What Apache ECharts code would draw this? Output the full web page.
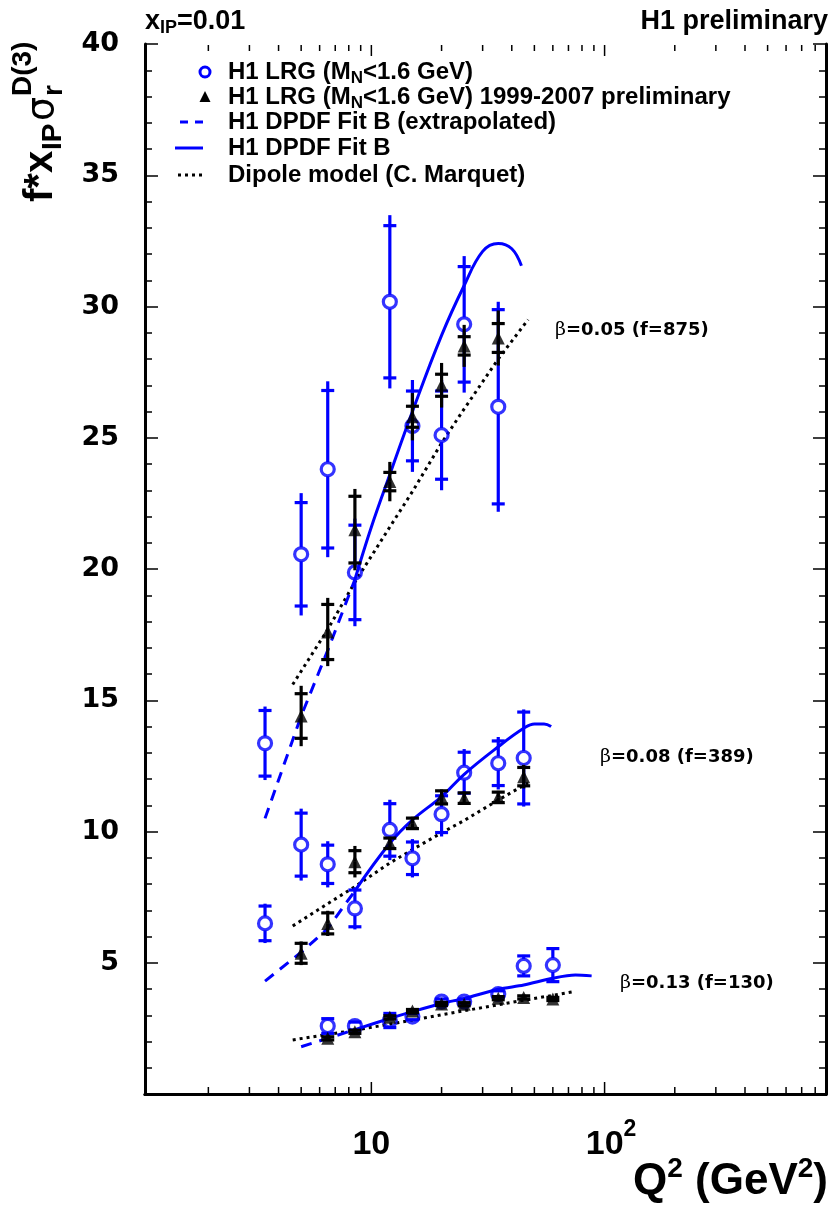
<!DOCTYPE html>
<html><head><meta charset="utf-8">
<script src="https://cdn.jsdelivr.net/npm/echarts@6/dist/echarts.min.js"></script>
<style>html,body{margin:0;padding:0;background:#fff}#c{width:837px;height:1222px}</style>
</head><body><div id="c"></div>
<script>
// ---------------- DATA ----------------
// H1 LRG (open blue circles): Q2, value, stat err, total err
const lrgQ2_b05  = [3.5, 5, 6.5, 8.5, 12, 15, 20, 25, 35];
const lrgVal_b05 = [13.36, 20.56, 23.8, 19.87, 30.18, 25.45, 25.1, 29.32, 26.18];
const lrgSta_b05 = [1.25, 1.97, 3.0, 1.8, 2.9, 1.33, 1.68, 2.2, 3.7];
const lrgTot_b05 = [1.4, 2.33, 3.35, 2.05, 3.3, 1.75, 2.1, 2.6, 4.0];

const lrgQ2_b08  = [3.5, 5, 6.5, 8.5, 12, 15, 20, 25, 35, 45];
const lrgVal_b08 = [6.5, 9.5, 8.75, 7.07, 10.06, 8.98, 10.66, 12.24, 12.6, 12.8];
const lrgSta_b08 = [0.66, 1.2, 0.73, 0.7, 1.0, 0.62, 0.7, 0.78, 0.85, 1.75];
const lrgTot_b08 = [0.75, 1.37, 0.88, 0.8, 1.15, 0.73, 0.85, 0.9, 1.0, 1.85];

const lrgQ2_b13  = [6.5, 8.5, 12, 15, 20, 25, 35, 45, 60];
const lrgVal_b13 = [2.59, 2.59, 2.8, 2.95, 3.52, 3.52, 3.81, 4.88, 4.91];
const lrgSta_b13 = [0.28, 0.15, 0.27, 0.12, 0.1, 0.1, 0.12, 0.38, 0.63];
const lrgTot_b13 = [0.32, 0.18, 0.3, 0.14, 0.12, 0.12, 0.14, 0.42, 0.66];

// H1 LRG 1999-2007 preliminary (black triangles)
const preQ2_b05  = [5, 6.5, 8.5, 12, 15, 20, 25, 35];
const preVal_b05 = [14.4, 17.6, 21.5, 23.33, 25.8, 27.0, 28.5, 28.8];
const preSta_b05 = [0.85, 1.05, 1.27, 0.35, 0.4, 0.42, 0.35, 0.55];
const preTot_b05 = [1.15, 1.3, 1.55, 0.75, 0.9, 0.85, 0.8, 1.05];

const preQ2_b08  = [5, 6.5, 8.5, 12, 15, 20, 25, 35, 45];
const preVal_b08 = [5.36, 6.5, 8.85, 9.55, 10.31, 11.3, 11.27, 11.3, 12.09];
const preSta_b08 = [0.38, 0.4, 0.42, 0.2, 0.2, 0.25, 0.2, 0.2, 0.35];
const preTot_b08 = [0.45, 0.48, 0.6, 0.25, 0.25, 0.3, 0.25, 0.25, 0.45];

const preQ2_b13  = [6.5, 8.5, 12, 15, 20, 25, 35, 45, 60];
const preVal_b13 = [2.12, 2.37, 2.92, 3.16, 3.43, 3.42, 3.65, 3.68, 3.62];
const preSta_b13 = [0.06, 0.06, 0.06, 0.06, 0.06, 0.06, 0.06, 0.06, 0.06];
const preTot_b13 = [0.08, 0.08, 0.08, 0.08, 0.08, 0.08, 0.08, 0.08, 0.08];

// H1 DPDF Fit B (solid) and extrapolated (dashed): [Q2, value]
const fitB_b05     = [[8.5,19.6],[10,21.6],[12,23.6],[15,26.0],[20,28.9],[25,30.8],[30,32.1],[35,32.4],[40,32.2],[44,31.55]];
const fitBext_b05  = [[3.5,10.5],[5,14.4],[6.5,16.9],[8.5,19.6]];
const fitB_b08     = [[8.5,7.74],[12,9.55],[15,10.44],[20,11.33],[25,12.18],[35,13.23],[45,13.93],[50,14.1],[55,14.1],[59,14.0]];
const fitBext_b08  = [[3.5,4.3],[5,5.4],[6.5,6.3],[8.5,7.74]];
const fitB_b13     = [[8.5,2.45],[12,2.88],[15,3.14],[20,3.45],[25,3.64],[35,3.99],[45,4.15],[60,4.41],[75,4.53],[88,4.5]];
const fitBext_b13  = [[5,1.8],[6.5,2.12],[8.5,2.45]];

// Dipole model (C. Marquet): [Q2, value]
const dipole_b05 = [[4.6,15.6],[6.5,17.7],[8.5,19.5],[12,21.6],[15,22.95],[20,24.8],[25,26.1],[35,28.0],[47,29.5]];
const dipole_b08 = [[4.6,6.4],[6.5,7.25],[8.5,7.9],[12,8.8],[15,9.31],[20,9.95],[25,10.42],[35,11.2],[47,11.85]];
const dipole_b13 = [[4.6,2.06],[6.5,2.27],[8.5,2.43],[12,2.66],[15,2.81],[20,3.02],[25,3.17],[35,3.4],[45,3.57],[60,3.76],[74,3.9]];

// axis ticks
const xMajorLabels = [10, 100];
const xMinorTicks = [2,3,4,5,6,7,8,9,20,30,40,50,60,70,80,90,200,300,400,500,600,700,800];
const yTickLabels = [5,10,15,20,25,30,35,40];

// ---------------- CHART ----------------
const BLUE = '#0000ff';
const SANS = "'Liberation Sans', Arial, Helvetica, sans-serif";
const X_MIN = 1.07, X_MAX = 890, Y_MIN = 0, Y_MAX = 40;

const chart = echarts.init(document.getElementById('c'), null, {renderer: 'canvas'});

function zip(q, v, s, t) { return q.map((x, i) => [x, v[i], s[i], t[i]]); }

function errSeries(q, v, s, t, color, gap, z) {
  return {
    type: 'custom', z: z, silent: true,
    data: zip(q, v, s, t),
    renderItem: function (params, api) {
      const x = api.value(0), y = api.value(1), st = api.value(2), tt = api.value(3);
      const c = api.coord([x, y]);
      const top = api.coord([x, y + tt]), bot = api.coord([x, y - tt]);
      const sTop = api.coord([x, y + st]), sBot = api.coord([x, y - st]);
      const hw = 6.5, lw = 3.2;
      const ch = [];
      if (top[1] < c[1] - gap) ch.push({type: 'line', shape: {x1: c[0], y1: top[1], x2: c[0], y2: c[1] - gap}, style: {stroke: color, lineWidth: lw}});
      if (bot[1] > c[1] + gap) ch.push({type: 'line', shape: {x1: c[0], y1: c[1] + gap, x2: c[0], y2: bot[1]}, style: {stroke: color, lineWidth: lw}});
      ch.push({type: 'line', shape: {x1: c[0] - hw, y1: sTop[1], x2: c[0] + hw, y2: sTop[1]}, style: {stroke: color, lineWidth: lw}});
      ch.push({type: 'line', shape: {x1: c[0] - hw, y1: sBot[1], x2: c[0] + hw, y2: sBot[1]}, style: {stroke: color, lineWidth: lw}});
      return {type: 'group', children: ch};
    }
  };
}
function circles(q, v, z) {
  return {type: 'scatter', z: z, silent: true, symbol: 'circle', symbolSize: 13,
    itemStyle: {color: 'rgba(0,0,0,0)', borderColor: BLUE, borderWidth: 3.2},
    data: q.map((x, i) => [x, v[i]])};
}
function triangles(q, v, z) {
  return {type: 'scatter', z: z, silent: true, symbol: 'triangle', symbolSize: 13,
    itemStyle: {color: '#000'}, data: q.map((x, i) => [x, v[i]])};
}
function curve(d, color, type, width, smooth, z) {
  return {type: 'line', z: z, silent: true, data: d, showSymbol: false, symbol: 'none', smooth: smooth,
    lineStyle: {color: color, type: type, width: width}};
}

// x-axis ticks (major + minor), bottom and top, drawn inward
const xTickData = xMajorLabels.map(v => [v, Y_MIN, 12]).concat(xMinorTicks.map(v => [v, Y_MIN, 7]));
const xTickSeries = {
  type: 'custom', z: 10, silent: true, clip: false,
  data: xTickData,
  renderItem: function (params, api) {
    const v = api.value(0), L = api.value(2);
    const b = api.coord([v, Y_MIN]), t = api.coord([v, Y_MAX]);
    return {type: 'group', children: [
      {type: 'line', shape: {x1: b[0], y1: b[1] - 1, x2: b[0], y2: b[1] - L}, style: {stroke: '#000', lineWidth: 1.5}},
      {type: 'line', shape: {x1: t[0], y1: t[1] + 1, x2: t[0], y2: t[1] + L}, style: {stroke: '#000', lineWidth: 1.5}}
    ]};
  }
};

const series = [
  curve(dipole_b05, '#000', [3, 4], 3, false, 2),
  curve(dipole_b08, '#000', [3, 4], 3, false, 2),
  curve(dipole_b13, '#000', [3, 4], 3, false, 2),
  curve(fitBext_b05, BLUE, [11, 8], 3, false, 3),
  curve(fitBext_b08, BLUE, [11, 8], 3, false, 3),
  curve(fitBext_b13, BLUE, [11, 8], 3, false, 3),
  curve(fitB_b05, BLUE, 'solid', 3, 0.4, 3),
  curve(fitB_b08, BLUE, 'solid', 3, 0.4, 3),
  curve(fitB_b13, BLUE, 'solid', 3, 0.3, 3),
  errSeries(lrgQ2_b05, lrgVal_b05, lrgSta_b05, lrgTot_b05, BLUE, 7, 4),
  errSeries(lrgQ2_b08, lrgVal_b08, lrgSta_b08, lrgTot_b08, BLUE, 7, 4),
  errSeries(lrgQ2_b13, lrgVal_b13, lrgSta_b13, lrgTot_b13, BLUE, 7, 4),
  circles(lrgQ2_b05, lrgVal_b05, 5),
  circles(lrgQ2_b08, lrgVal_b08, 5),
  circles(lrgQ2_b13, lrgVal_b13, 5),
  errSeries(preQ2_b05, preVal_b05, preSta_b05, preTot_b05, '#000', 0, 6),
  errSeries(preQ2_b08, preVal_b08, preSta_b08, preTot_b08, '#000', 0, 6),
  errSeries(preQ2_b13, preVal_b13, preSta_b13, preTot_b13, '#000', 0, 6),
  triangles(preQ2_b05, preVal_b05, 7),
  triangles(preQ2_b08, preVal_b08, 7),
  triangles(preQ2_b13, preVal_b13, 7),
  xTickSeries
];

const axisLineStyle = {show: true, lineStyle: {color: '#000', width: 3}};
const option = {
  backgroundColor: '#fff',
  animation: false,
  grid: {left: 145, top: 44, right: 11, bottom: 128, containLabel: false},
  xAxis: [
    {type: 'log', logBase: 10, min: X_MIN, max: X_MAX, position: 'bottom',
     axisLine: axisLineStyle, splitLine: {show: false},
     axisTick: {show: false},
     axisLabel: {show: true, showMinLabel: false, showMaxLabel: false, margin: 24,
       formatter: function (v) {
         if (Math.abs(v - xMajorLabels[0]) < 1e-6) return '{b|10}';
         if (Math.abs(v - xMajorLabels[1]) < 1e-4) return '{p|}{b|10}{s|2}';
         return '';
       },
       rich: {
         b: {fontFamily: SANS, fontWeight: 'bold', fontSize: 34, color: '#000', lineHeight: 44, verticalAlign: 'bottom'},
         s: {fontFamily: SANS, fontWeight: 'bold', fontSize: 23, color: '#000', lineHeight: 23, verticalAlign: 'top'},
         p: {width: 13}
       }}},
    {type: 'log', logBase: 10, min: X_MIN, max: X_MAX, position: 'top',
     axisLine: axisLineStyle, splitLine: {show: false},
     axisTick: {show: false},
     axisLabel: {show: false}}
  ],
  yAxis: [
    {type: 'value', min: Y_MIN, max: Y_MAX, interval: 5, position: 'left',
     axisLine: axisLineStyle, splitLine: {show: false},
     axisTick: {show: true, inside: true, length: 13, lineStyle: {width: 1.5, color: '#000'}},
     minorTick: {show: true, splitNumber: 5, length: 7, lineStyle: {width: 1.5, color: '#000'}},
     axisLabel: {margin: 26, color: '#000', fontFamily: "'DejaVu Sans', sans-serif", fontWeight: 'bold', fontSize: 27,
       formatter: function (v) { return yTickLabels.indexOf(v) >= 0 ? String(v) : ''; }}},
    {type: 'value', min: Y_MIN, max: Y_MAX, interval: 5, position: 'right',
     axisLine: axisLineStyle, splitLine: {show: false},
     axisTick: {show: true, inside: true, length: 13, lineStyle: {width: 1.5, color: '#000'}},
     minorTick: {show: true, splitNumber: 5, length: 7, lineStyle: {width: 1.5, color: '#000'}},
     axisLabel: {show: false}}
  ],
  series: series,
  graphic: []
};

// ---- texts & legend (graphic) ----
const g = [];
function txt(x, y, text, rich, align, extra) {
  return Object.assign({type: 'text', x: x, y: y, silent: true, z: 100,
    style: {text: text, rich: rich, align: align || 'left', verticalAlign: 'middle',
            textAlign: align || 'left', textVerticalAlign: 'middle'}}, extra || {});
}
const R = (size, color, extra) => Object.assign({fontFamily: SANS, fontWeight: 'bold', fontSize: size, color: color || '#000', lineHeight: 30, verticalAlign: 'middle'}, extra || {});

// top titles
g.push(txt(145, 22, '{a|x}{s|IP}{a|=0.01}', {a: R(27), s: R(18, '#000', {lineHeight: 14, verticalAlign: 'bottom'})}));
g.push(txt(828, 22, '{a|H1 preliminary}', {a: R(27)}, 'right'));

// legend
const legX = 205, textX = 228;
const rowY = [72, 97, 122, 148, 175];
g.push({type: 'circle', z: 100, shape: {cx: legX, cy: rowY[0], r: 5}, style: {fill: 'none', stroke: BLUE, lineWidth: 3}});
g.push({type: 'polygon', z: 100, shape: {points: [[legX - 5.5, rowY[1] + 5], [legX + 5.5, rowY[1] + 5], [legX, rowY[1] - 6]]}, style: {fill: '#000'}});
g.push({type: 'line', z: 100, shape: {x1: 180, y1: rowY[2], x2: 203, y2: rowY[2]}, style: {stroke: BLUE, lineWidth: 3, lineDash: [8, 7]}});
g.push({type: 'line', z: 100, shape: {x1: 175, y1: rowY[3], x2: 203, y2: rowY[3]}, style: {stroke: BLUE, lineWidth: 3}});
g.push({type: 'line', z: 100, shape: {x1: 178, y1: rowY[4], x2: 203, y2: rowY[4]}, style: {stroke: '#000', lineWidth: 3, lineDash: [3, 4]}});
const legRich = (c) => ({a: R(24, c), s: R(17, c, {lineHeight: 14, verticalAlign: 'bottom'})});
g.push(txt(textX, rowY[0], '{a|H1 LRG (M}{s|N}{a|<1.6 GeV)}', legRich('#000')));
g.push(txt(textX, rowY[1], '{a|H1 LRG (M}{s|N}{a|<1.6 GeV) 1999-2007 preliminary}', legRich('#000')));
g.push(txt(textX, rowY[2], '{a|H1 DPDF Fit B (extrapolated)}', legRich(BLUE)));
g.push(txt(textX, rowY[3], '{a|H1 DPDF Fit B}', legRich(BLUE)));
g.push(txt(textX, rowY[4], '{a|Dipole model (C. Marquet)}', legRich('#000')));

// beta labels
const betaRich = {
  b: {fontFamily: "'DejaVu Serif', 'Liberation Serif', serif", fontSize: 19, color: '#000', lineHeight: 26, verticalAlign: 'middle'},
  a: {fontFamily: "'DejaVu Sans', sans-serif", fontWeight: 'bold', fontSize: 18, color: '#000', lineHeight: 26, verticalAlign: 'middle'}
};
g.push(txt(555, 330, '{b|β}{a|=0.05 (f=875)}', betaRich));
g.push(txt(600, 757, '{b|β}{a|=0.08 (f=389)}', betaRich));
g.push(txt(620, 983, '{b|β}{a|=0.13 (f=130)}', betaRich));

// x-axis title
g.push(txt(828, 1182, '{a|Q}{p|2}{a| (GeV}{p|2}{a|)}',
  {a: R(44, '#000', {lineHeight: 54}), p: R(28, '#000', {lineHeight: 26, verticalAlign: 'top'})}, 'right'));

// y-axis title (rotated group)
const F1 = 40, F2 = 28;
g.push({type: 'group', x: 55, y: 202, rotation: Math.PI / 2, z: 100, silent: true, children: [
  {type: 'text', x: 0, y: -0.34 * F1, style: {text: 'f*x', font: 'bold ' + F1 + 'px ' + SANS, fill: '#000', align: 'left', verticalAlign: 'middle'}},
  {type: 'text', x: 52, y: 8 - 0.34 * F2, style: {text: 'IP', font: 'bold ' + F2 + 'px ' + SANS, fill: '#000', align: 'left', verticalAlign: 'middle'}},
  {type: 'text', x: 81, y: -0.30 * 38, style: {text: 'σ', font: '38px ' + "'DejaVu Sans', sans-serif", fill: '#000', align: 'left', verticalAlign: 'middle'}},
  {type: 'text', x: 106, y: 9 - 0.34 * F2, style: {text: 'r', font: 'bold ' + F2 + 'px ' + SANS, fill: '#000', align: 'left', verticalAlign: 'middle'}},
  {type: 'text', x: 106, y: -22 - 0.34 * F2, style: {text: 'D(3)', font: 'bold ' + F2 + 'px ' + SANS, fill: '#000', align: 'left', verticalAlign: 'middle'}}
]});

option.graphic = g;
chart.setOption(option);
</script></body></html>
